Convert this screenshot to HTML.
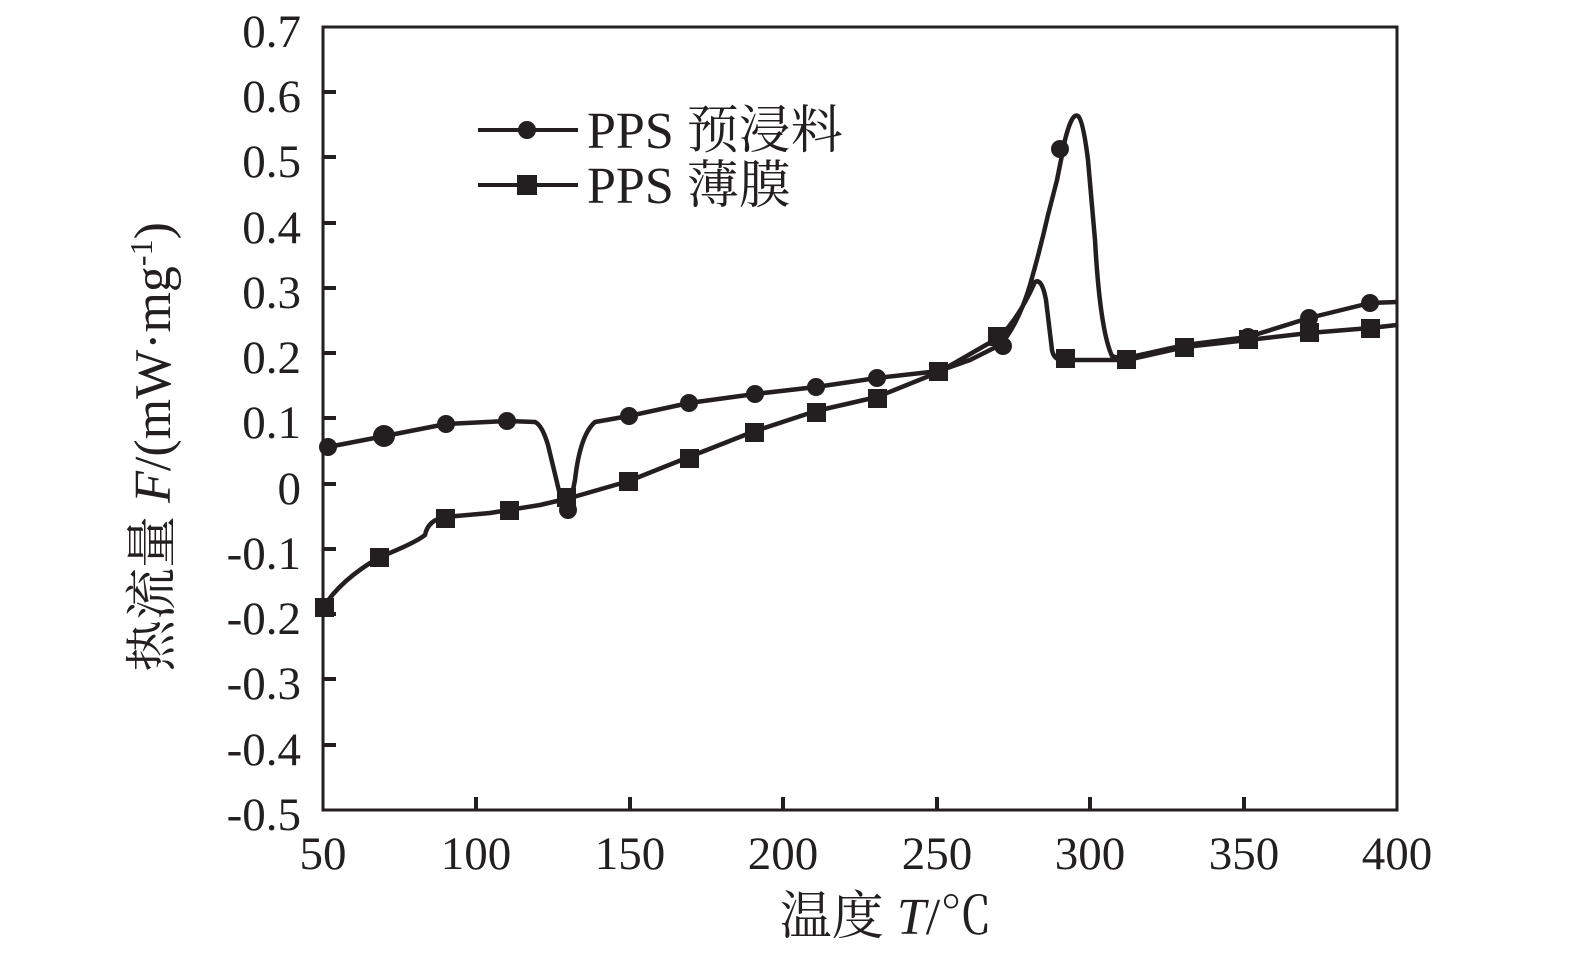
<!DOCTYPE html>
<html><head><meta charset="utf-8"><style>html,body{margin:0;padding:0;background:#fff;overflow:hidden}svg{display:block}</style></head><body>
<svg width="1575" height="959" viewBox="0 0 1575 959" xmlns="http://www.w3.org/2000/svg" font-family="Liberation Serif, Noto Serif CJK SC, serif" fill="#231f20">
<g stroke="#231f20" stroke-width="4" fill="none">
<path d="M323,27 L1397,27 L1397,810 L323,810 Z" stroke-width="3"/>
<path d="M323,92h13M323,157h13M323,223h13M323,288h13M323,353h13M323,418h13M323,484h13M323,549h13M323,614h13M323,679h13M323,745h13"/>
<path d="M476,810v-13M630,810v-13M783,810v-13M937,810v-13M1090,810v-13M1244,810v-13"/>
<path stroke-width="4.5" stroke-linejoin="round" d="M328,447 L385,436 L446,424 L507,421 L535,422 Q542,425 548,445 L560,495 Q566,515 570,505 L575,480 Q580,435 595,422 L629,416 L689,403 L755,394 L816,387 L877,378 L939,371 L970,360 L1000,345 Q1018,325 1030,285 Q1040,250 1048,215 L1057,180 L1065,140 Q1072,112 1078,116 Q1083,120 1088,160 L1095,240 Q1100,330 1112,356 L1122,359 L1185,345 L1248,337 L1309,318 L1370,303 L1397,302"/>
<path stroke-width="4.5" stroke-linejoin="round" d="M323,608 Q340,580 380,557 Q415,543 425,535 Q428,520 445,517 L490,513 L540,505 L570,498 L629,481 L689,457 L755,431 L816,411 L877,397 L939,372 L998,338 Q1018,320 1035,282 Q1042,278 1046,300 L1052,350 Q1054,361 1065,360 L1127,360 L1185,347 L1248,340 L1309,333 L1370,328 L1397,325"/>
<path d="M478,130h100M478,185h100"/>
</g>
<g>
<circle cx="328" cy="447" r="9"/><circle cx="384" cy="436" r="11"/><circle cx="446" cy="424" r="9"/><circle cx="507" cy="421" r="9"/><circle cx="568" cy="510" r="9"/><circle cx="629" cy="416" r="9"/><circle cx="689" cy="403" r="9"/><circle cx="755" cy="394" r="9"/><circle cx="816" cy="387" r="9"/><circle cx="877" cy="378" r="9"/><circle cx="939" cy="371" r="9"/><circle cx="1003" cy="346" r="9"/><circle cx="1060" cy="149" r="9"/><circle cx="1248" cy="337" r="9"/><circle cx="1309" cy="318" r="9"/><circle cx="1370" cy="303" r="9"/>
<circle cx="527" cy="130" r="9"/>
</g>
<g>
<rect x="315" y="598" width="19" height="19"/><rect x="370" y="548" width="19" height="19"/><rect x="436" y="509" width="19" height="19"/><rect x="500" y="501" width="19" height="19"/><rect x="557" y="488" width="19" height="19"/><rect x="619" y="472" width="19" height="19"/><rect x="680" y="449" width="19" height="19"/><rect x="745" y="423" width="19" height="19"/><rect x="807" y="403" width="19" height="19"/><rect x="868" y="389" width="19" height="19"/><rect x="929" y="362" width="19" height="19"/><rect x="988" y="327" width="19" height="19"/><rect x="1056" y="349" width="19" height="19"/><rect x="1117" y="350" width="19" height="19"/><rect x="1175" y="338" width="19" height="19"/><rect x="1239" y="330" width="19" height="19"/><rect x="1300" y="323" width="19" height="19"/><rect x="1361" y="319" width="19" height="19"/>
<rect x="517" y="175" width="20" height="20"/>
</g>
<g font-size="47" text-anchor="end">
<text x="301" y="47">0.7</text><text x="301" y="112">0.6</text><text x="301" y="177">0.5</text><text x="301" y="243">0.4</text><text x="301" y="308">0.3</text><text x="301" y="373">0.2</text><text x="301" y="438">0.1</text><text x="301" y="504">0</text><text x="301" y="569">-0.1</text><text x="301" y="634">-0.2</text><text x="301" y="699">-0.3</text><text x="301" y="765">-0.4</text><text x="301" y="830">-0.5</text>
</g>
<g font-size="47" text-anchor="middle">
<text x="323" y="869">50</text><text x="476" y="869">100</text><text x="630" y="869">150</text><text x="783" y="869">200</text><text x="937" y="869">250</text><text x="1090" y="869">300</text><text x="1244" y="869">350</text><text x="1397" y="869">400</text>
<text x="886" y="934" font-size="52">温度 <tspan font-style="italic">T</tspan>/℃</text>
</g>
<text font-size="52" text-anchor="middle" transform="translate(170,447) rotate(-90)">热流量 <tspan font-style="italic">F</tspan>/(mW·mg<tspan font-size="32" dy="-18">-1</tspan><tspan dy="18">)</tspan></text>
<g font-size="52"><text x="587" y="148">PPS 预浸料</text><text x="587" y="203">PPS 薄膜</text></g>
</svg>
</body></html>
